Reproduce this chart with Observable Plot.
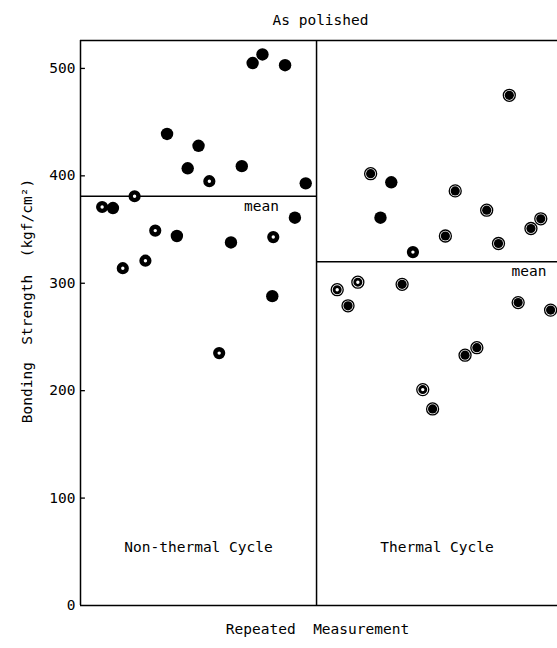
<!DOCTYPE html>
<html>
<head>
<meta charset="utf-8">
<script src="https://cdn.jsdelivr.net/npm/d3@7"></script>
<script src="https://cdn.jsdelivr.net/npm/@observablehq/plot@0.6"></script>
<style>
  html, body { margin: 0; padding: 0; background: #fff; }
  svg text { white-space: pre; }
</style>
</head>
<body>
<div id="chart"></div>
<script>
// ---- data ----
const title = "As polished";
const xLabel = "Repeated  Measurement";
const yLabel = "Bonding  Strength  (kgf/cm²)";
const panels = ["Non-thermal Cycle", "Thermal Cycle"];
const panelCenter = [12, 36.25];
const divider = 24;      // measurement order where the thermal cycle begins
const xMax = 48.5;
const yMax = 526;
const yTicks = [0, 100, 200, 300, 400, 500];
const means = [381, 320];
const meanStart = [0, 24];
const meanEnd = [24, 48.5];
const meanLabelX = [18.4, 45.6];

// Non-thermal cycle
const ntOrder =    [2.2, 3.3, 4.3, 5.5, 6.6, 7.6, 8.8, 9.8, 10.9, 12.0, 13.1, 14.1, 15.3, 16.4, 17.5, 18.5, 19.5, 19.6, 20.8, 21.8, 22.9];
const ntStrength = [371, 370, 314, 381, 321, 349, 439, 344, 407, 428, 395, 235, 338, 409, 505, 513, 288, 343, 503, 361, 393];
const ntMarker =   ["open","filled","open","open","open","open","filled","filled","filled","filled","open","open","filled","filled","filled","filled","filled","open","filled","filled","filled"];

// Thermal cycle
const tcOrder =    [26.1, 27.2, 28.2, 29.5, 30.5, 31.6, 32.7, 33.8, 34.8, 35.8, 37.1, 38.1, 39.1, 40.3, 41.3, 42.5, 43.6, 44.5, 45.8, 46.8, 47.8];
const tcStrength = [294, 279, 301, 402, 361, 394, 299, 329, 201, 183, 344, 386, 233, 240, 368, 337, 475, 282, 351, 360, 275];
const tcMarker =   ["double","ringed","double","ringed","filled","filled","ringed","open","double","ringed","ringed","ringed","ringed","ringed","ringed","ringed","ringed","ringed","ringed","ringed","ringed"];

// ---- build table ----
const points = [
  ...ntOrder.map((x, i) => ({x, y: ntStrength[i], m: ntMarker[i]})),
  ...tcOrder.map((x, i) => ({x, y: tcStrength[i], m: tcMarker[i]}))
];
const meanRows = means.map((v, i) => ({v, x1: meanStart[i], x2: meanEnd[i], lx: meanLabelX[i]}));
const of = (...types) => points.filter(d => types.includes(d.m));

const font = "DejaVu Sans Mono";
const fs = 14.5;

const chart = Plot.plot({
  width: 557,
  height: 648,
  marginLeft: 80,
  marginRight: 0,
  marginTop: 40,
  marginBottom: 43,
  style: {fontFamily: font, fontSize: fs + "px", color: "black", background: "white"},
  x: {domain: [0, xMax], axis: null},
  y: {domain: [0, yMax], axis: null},
  marks: [
    Plot.axisY({ticks: yTicks, tickSize: 0, tickPadding: 5, label: null, fontSize: fs, tickFormat: d => String(d)}),
    Plot.ruleY(yTicks.filter(d => d > 0), {y: d => d, x1: 0, x2: 0.5, stroke: "black", strokeWidth: 1.3}),
    // frame
    Plot.ruleY([0, yMax], {stroke: "black", strokeWidth: 1.5}),
    Plot.ruleX([0, divider], {stroke: "black", strokeWidth: 1.5}),
    // means
    Plot.ruleY(meanRows, {y: "v", x1: "x1", x2: "x2", stroke: "black", strokeWidth: 1.5}),
    Plot.text(meanRows, {x: "lx", y: "v", text: () => "mean", dy: 10, fontSize: fs, fill: "black"}),
    // markers
    Plot.dot(of("filled"), {x: "x", y: "y", r: 6.2, fill: "black"}),
    Plot.dot(of("open"), {x: "x", y: "y", r: 3.9, fill: "white", stroke: "black", strokeWidth: 4.4}),
    Plot.dot(of("ringed", "double"), {x: "x", y: "y", r: 6, fill: "white", stroke: "black", strokeWidth: 1.3}),
    Plot.dot(of("ringed"), {x: "x", y: "y", r: 4.6, fill: "black"}),
    Plot.dot(of("double"), {x: "x", y: "y", r: 3.1, fill: "white", stroke: "black", strokeWidth: 2.8}),
    // panel labels
    Plot.text(panels, {x: (d, i) => panelCenter[i], frameAnchor: "bottom", dy: -54, text: d => d, fontSize: fs, fill: "black"}),
    // titles
    Plot.text([title], {frameAnchor: "top", dx: 1.5, dy: -26, text: d => d, fontSize: fs, fill: "black"}),
    Plot.text([xLabel], {frameAnchor: "bottom", dx: -1.5, dy: 28, text: d => d, fontSize: fs, fill: "black"}),
    Plot.text([yLabel], {frameAnchor: "left", textAnchor: "middle", dx: -53, dy: -22, rotate: -90, text: d => d, fontSize: fs, fill: "black"})
  ]
});
document.getElementById("chart").appendChild(chart);
</script>
</body>
</html>
